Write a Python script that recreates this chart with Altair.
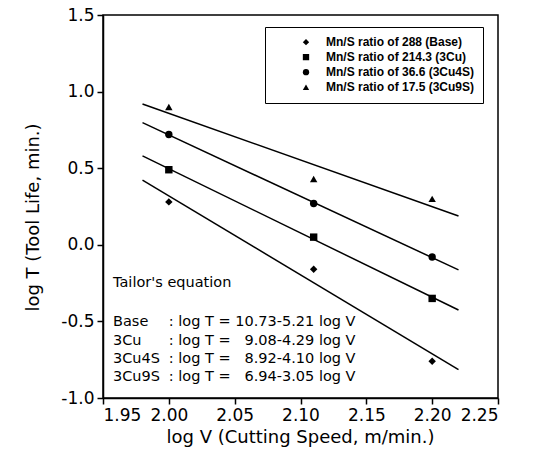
import altair as alt
import pandas as pd

# ---- data ----
series_names = [
    "Mn/S ratio of 288 (Base)",
    "Mn/S ratio of 214.3 (3Cu)",
    "Mn/S ratio of 36.6 (3Cu4S)",
    "Mn/S ratio of 17.5 (3Cu9S)",
]
log_v = [2.00, 2.11, 2.20]
base_T = [0.28, -0.16, -0.76]
cu_T = [0.49, 0.05, -0.35]
cu4s_T = [0.72, 0.27, -0.08]
cu9s_T = [0.90, 0.43, 0.30]
series_values = [base_T, cu_T, cu4s_T, cu9s_T]
shapes = ["diamond", "square", "circle", "triangle-up"]

x_ticks = [1.95, 2.00, 2.05, 2.10, 2.15, 2.20, 2.25]
y_ticks = [-1.0, -0.5, 0.0, 0.5, 1.0, 1.5]

NB = "\u00a0"
eq_header = "Tailor's equation"
eq_labels = ["Base", "3Cu", "3Cu4S", "3Cu9S"]
eq_texts = [
    ": log T = 10.73-5.21 log V",
    ": log T = " + NB * 2 + "9.08-4.29 log V",
    ": log T = " + NB * 2 + "8.92-4.10 log V",
    ": log T = " + NB * 2 + "6.94-3.05 log V",
]

rows = []
for name, vals in zip(series_names, series_values):
    for xv, yv in zip(log_v, vals):
        rows.append({"series": name, "x": xv, "y": yv})
df = pd.DataFrame(rows)

# annotation placement (data units)
ann_y = [-0.505, -0.625, -0.745, -0.865]
df_lab = pd.DataFrame({"x": [1.9576] * 4, "y": ann_y, "t": eq_labels})
df_eq = pd.DataFrame({"x": [2.0] * 4, "y": ann_y, "t": eq_texts})
df_head = pd.DataFrame({"x": [1.9576], "y": [-0.25], "t": [eq_header]})

FONT = "DejaVu Sans"
minus_fix = "replace(format(datum.value, '{fmt}'), '\u2212', '-')"

xscale = alt.Scale(domain=[1.95, 2.25], nice=False, zero=False)
yscale = alt.Scale(domain=[-1.0, 1.5], nice=False, zero=False)

xaxis = alt.Axis(
    values=x_ticks, labelExpr=minus_fix.format(fmt=".2f"),
    title="log V (Cutting Speed, m/min.)", grid=False,
    titleX=197, titleY=39, titleAlign="center", titleBaseline="middle",
)
yaxis = alt.Axis(
    values=y_ticks, labelExpr=minus_fix.format(fmt=".1f"),
    title="log T (Tool Life, min.)", grid=False,
    titleX=-70, titleY=202, titleAngle=270, titleAlign="center", titleBaseline="middle",
)

X = alt.X("x:Q", scale=xscale, axis=xaxis)
Y = alt.Y("y:Q", scale=yscale, axis=yaxis)

pad = NB * 3

points = alt.Chart(df).mark_point(filled=True, size=55, opacity=1, color="black").encode(
    x=X, y=Y,
    shape=alt.Shape(
        "series:N",
        scale=alt.Scale(domain=series_names, range=shapes),
        legend=alt.Legend(
            title=None, orient="none", legendX=162, legendY=12,
            padding=8, strokeColor="black", fillColor="white",
            labelFont="Liberation Sans", labelFontWeight="bold", labelFontSize=12,
            labelColor="black", symbolSize=40, symbolFillColor="black",
            symbolStrokeColor="black", symbolOffset=27, labelOffset=14,
            rowPadding=0, clipHeight=14.4, labelLimit=400,
            labelExpr=f"datum.label + '{pad}'",
        ),
    ),
)

lines = alt.Chart(df).transform_regression(
    "x", "y", groupby=["series"], extent=[1.98, 2.22]
).mark_line(color="black", strokeWidth=1.5).encode(
    x=X, y=Y, detail="series:N"
)

txt_kw = dict(align="left", baseline="middle", font=FONT, fontSize=14.5, color="black")
head = alt.Chart(df_head).mark_text(**txt_kw).encode(x=X, y=Y, text="t:N")
labs = alt.Chart(df_lab).mark_text(**txt_kw).encode(x=X, y=Y, text="t:N")
eqs = alt.Chart(df_eq).mark_text(**txt_kw).encode(x=X, y=Y, text="t:N")

chart = alt.layer(lines, points, head, labs, eqs).properties(
    width=395, height=383,
    padding={"left": 103, "top": 15, "right": 35, "bottom": 55},
    autosize=alt.AutoSizeParams(type="none"),
    background="white",
).configure_view(
    stroke="black", strokeWidth=1.5
).configure_axis(
    labelFont=FONT, labelFontSize=17, labelColor="black",
    titleFont=FONT, titleFontSize=18, titleColor="black", titleFontWeight="normal",
    domainColor="black", domainWidth=1.5, tickColor="black", tickWidth=1.5, tickSize=6,
    labelPadding=3,
)

chart.save("out.html", embed_options={"renderer": "svg", "actions": False})
